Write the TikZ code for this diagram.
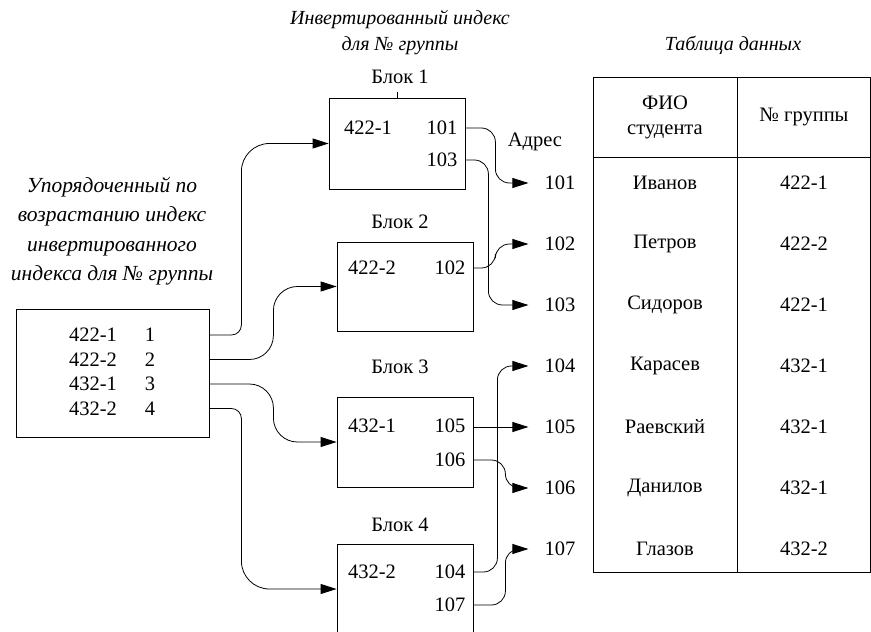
\documentclass[tikz,border=0pt]{standalone}
\usepackage{fontspec}
\setmainfont{Liberation Serif}
\usetikzlibrary{arrows.meta}

\begin{document}
\begin{tikzpicture}[x=1pt, y=-1pt,
   every node/.style={font=\fontsize{20.5}{25}\selectfont, inner sep=0pt},
   ital/.style={font=\fontsize{20}{26}\selectfont\itshape, align=center},
   blockbox/.style={draw, line width=0.8pt, minimum width=136pt, minimum height=90pt},
   addr/.style={inner xsep=16pt},
   link/.style={draw, line width=0.8pt, rounded corners=14pt,
                -{Triangle[length=16pt,width=10pt]}}]

\useasboundingbox (0,0) rectangle (871,632);

% captions
\node[ital] (ttlinv) at (400,33) {Инвертированный индекс\\для № группы};
\node[ital] (ttltab) at (733,45) {Таблица данных};
\node[ital, font=\fontsize{21.5}{29.5}\selectfont\itshape] (ttlidx) at (112,231)
    {Упорядоченный по\\возрастанию индекс\\инвертированного\\индекса для № группы};

% sorted index
\node[draw, line width=0.8pt, minimum width=193pt, minimum height=128pt] (idx) at (112.5,373) {};
\node (k1) at (93,335) {422-1};   \node (n1) at (150,335) {1};
\node (k2) at (93,359.5) {422-2}; \node (n2) at (150,359.5) {2};
\node (k3) at (93,384) {432-1};   \node (n3) at (150,384) {3};
\node (k4) at (93,408.5) {432-2}; \node (n4) at (150,408.5) {4};

% blocks of the inverted index
\node[blockbox, minimum height=91pt] (b1) at (397,143.5) {};
\node (lb1) at (400,77) {Блок 1};
\draw[line width=0.8pt] (b1.north) -- ([yshift=6pt]b1.north);
\node (g1) at (368,128) {422-1};
\node (v101) at (442,128) {101};
\node (v103) at (442,160) {103};

\node[blockbox, minimum height=89pt] (b2) at (405,286.5) {};
\node (lb2) at (400,222) {Блок 2};
\node (g2) at (372,268) {422-2};
\node (v102) at (450,268) {102};

\node[blockbox] (b3) at (405,442) {};
\node (lb3) at (400,367) {Блок 3};
\node (g3) at (372,426) {432-1};
\node (v105) at (450,426) {105};
\node (v106) at (450,460) {106};

\node[blockbox] (b4) at (405,589) {};
\node (lb4) at (400,525) {Блок 4};
\node (g4) at (372,572) {432-2};
\node (v104) at (450,572) {104};
\node (v107) at (450,605) {107};

% addresses
\node (adr) at (535,142) {Адрес};
\node[addr] (a101) at (560,183) {101};
\node[addr] (a102) at (560,244) {102};
\node[addr] (a103) at (560,305) {103};
\node[addr] (a104) at (560,366) {104};
\node[addr] (a105) at (560,427) {105};
\node[addr] (a106) at (560,488) {106};
\node[addr] (a107) at (560,549) {107};

% data table
\draw[line width=0.8pt] (593,77) rectangle (870,572);
\draw[line width=0.8pt] (593,157) -- (870,157);
\draw[line width=0.8pt] (737,77) -- (737,572);
\node[align=center] (hfio) at (665,117) {ФИО\\студента};
\node (hgrp) at (804,117) {№ группы};
\node (s1) at (665,183) {Иванов};   \node (gr1) at (804,183) {422-1};
\node (s2) at (665,244) {Петров};   \node (gr2) at (804,244) {422-2};
\node (s3) at (665,305) {Сидоров};  \node (gr3) at (804,305) {422-1};
\node (s4) at (665,366) {Карасев};  \node (gr4) at (804,366) {432-1};
\node (s5) at (665,427) {Раевский}; \node (gr5) at (804,427) {432-1};
\node (s6) at (665,488) {Данилов};  \node (gr6) at (804,488) {432-1};
\node (s7) at (665,549) {Глазов};   \node (gr7) at (804,549) {432-2};

% index -> blocks
\draw[link] (idx.east |- k1) [rounded corners=10pt] -- ++(32,0)
    [rounded corners=28pt] |- (b1.west);
\draw[link, rounded corners=24pt] (idx.east |- k2) -- ++(64,0) |- (b2.west);
\draw[link, rounded corners=24pt] (idx.east |- k3) -- ++(64,0) |- (b3.west);
\draw[link] (idx.east |- k4) [rounded corners=10pt] -- ++(32,0)
    [rounded corners=28pt] |- (b4.west);

% blocks -> addresses
\draw[link] (b1.east |- v101) -- ++(30,0) |- (a101.west);
\draw[link] (b1.east |- v103) -- ++(23,0) |- (a103.west);
\draw[link] (b2.east |- v102) -- ++(22,0) |- (a102.west);
\draw[link] (b3.east |- a105) -- (a105.west);
\draw[link] (b3.east |- v106) -- ++(32,0) |- (a106.west);
\draw[link] (b4.east |- v104) -- ++(24,0) |- (a104.west);
\draw[link] (b4.east |- v107) -- ++(32,0) |- (a107.west);

\end{tikzpicture}
\end{document}
